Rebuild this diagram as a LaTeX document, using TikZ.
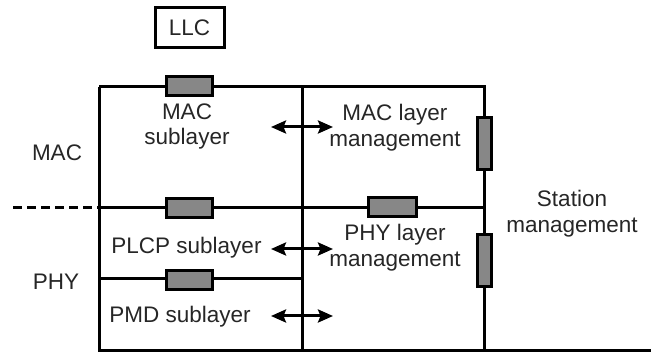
\documentclass[tikz,border=0pt]{standalone}
\usepackage{fontspec}
\setmainfont{Liberation Sans}
\usetikzlibrary{arrows.meta}
\begin{document}
\begin{tikzpicture}[x=1pt,y=-1pt,
  wire/.style={line width=3pt,black},
  res/.style={draw=black,line width=3pt,fill=black!47,inner sep=0pt,minimum width=#1},
  hres/.style={res=46pt,minimum height=19pt},
  vres/.style={res=14pt,minimum height=52pt},
  lbl/.style={font=\fontsize{22.5}{25.5}\selectfont,align=center,inner sep=0pt,text=black!85},
  dbl/.style={line width=3pt,{Stealth[length=15pt,width=13pt,inset=2.5pt]}-{Stealth[length=15pt,width=13pt,inset=2.5pt]}}
]
\useasboundingbox (0,0) rectangle (651,352);
% corners
\coordinate (TL) at (99,87);
\coordinate (TM) at (302,87);
\coordinate (TR) at (484,87);
\coordinate (ML) at (99,208);
\coordinate (MR) at (484,208);
\coordinate (DS) at (13,208);
\coordinate (PL) at (99,279);
\coordinate (PM) at (302,279);
\coordinate (BL) at (99,350.5);
\coordinate (BM) at (302,350.5);
\coordinate (BR) at (484,350.5);
\coordinate (BE) at (651,350.5);
% lines
\draw[wire] (TL) -- (TR) -- (BR);
\draw[wire] (TL) -- (BL) -- (BE);
\draw[wire] (TM) -- (BM);
\draw[wire] (ML) -- (MR);
\draw[wire] (PL) -- (PM);
\draw[wire,dash pattern=on 9pt off 5pt] (DS) -- (ML);
% LLC
\node[draw,line width=3pt,minimum width=69pt,minimum height=40pt,inner sep=0pt,lbl] (llc) at (189.5,28) {LLC};
% resistors
\node[hres] (r1) at (189,86.5) {};
\node[hres] (r2) at (189,208) {};
\node[hres] (r3) at (189,280) {};
\node[hres,minimum width=48pt] (r4) at (392,207.5) {};
\node[vres] (r5) at (484,143.5) {};
\node[vres] (r6) at (484,260.5) {};
% arrows
\coordinate (a1l) at (271,127); \coordinate (a1r) at (333,127);
\coordinate (a2l) at (271,249); \coordinate (a2r) at (333,249);
\coordinate (a3l) at (271,316); \coordinate (a3r) at (333,316);
\draw[dbl] (a1l) -- (a1r);
\draw[dbl] (a2l) -- (a2r);
\draw[dbl] (a3l) -- (a3r);
% labels
\node[lbl] (macsub) at (187,126.5) {MAC\\sublayer};
\node[lbl] (mac) at (57,153) {MAC};
\node[lbl] (phy) at (56,282) {PHY};
\node[lbl] (plcp) at (186.5,248) {PLCP sublayer};
\node[lbl] (pmd) at (180,317) {PMD sublayer};
\node[lbl] (maclm) at (395,127.5) {MAC layer\\management};
\node[lbl] (phylm) at (395,247.5) {PHY layer\\management};
\node[lbl] (stm) at (572,213.5) {Station\\management};
\end{tikzpicture}
\end{document}
